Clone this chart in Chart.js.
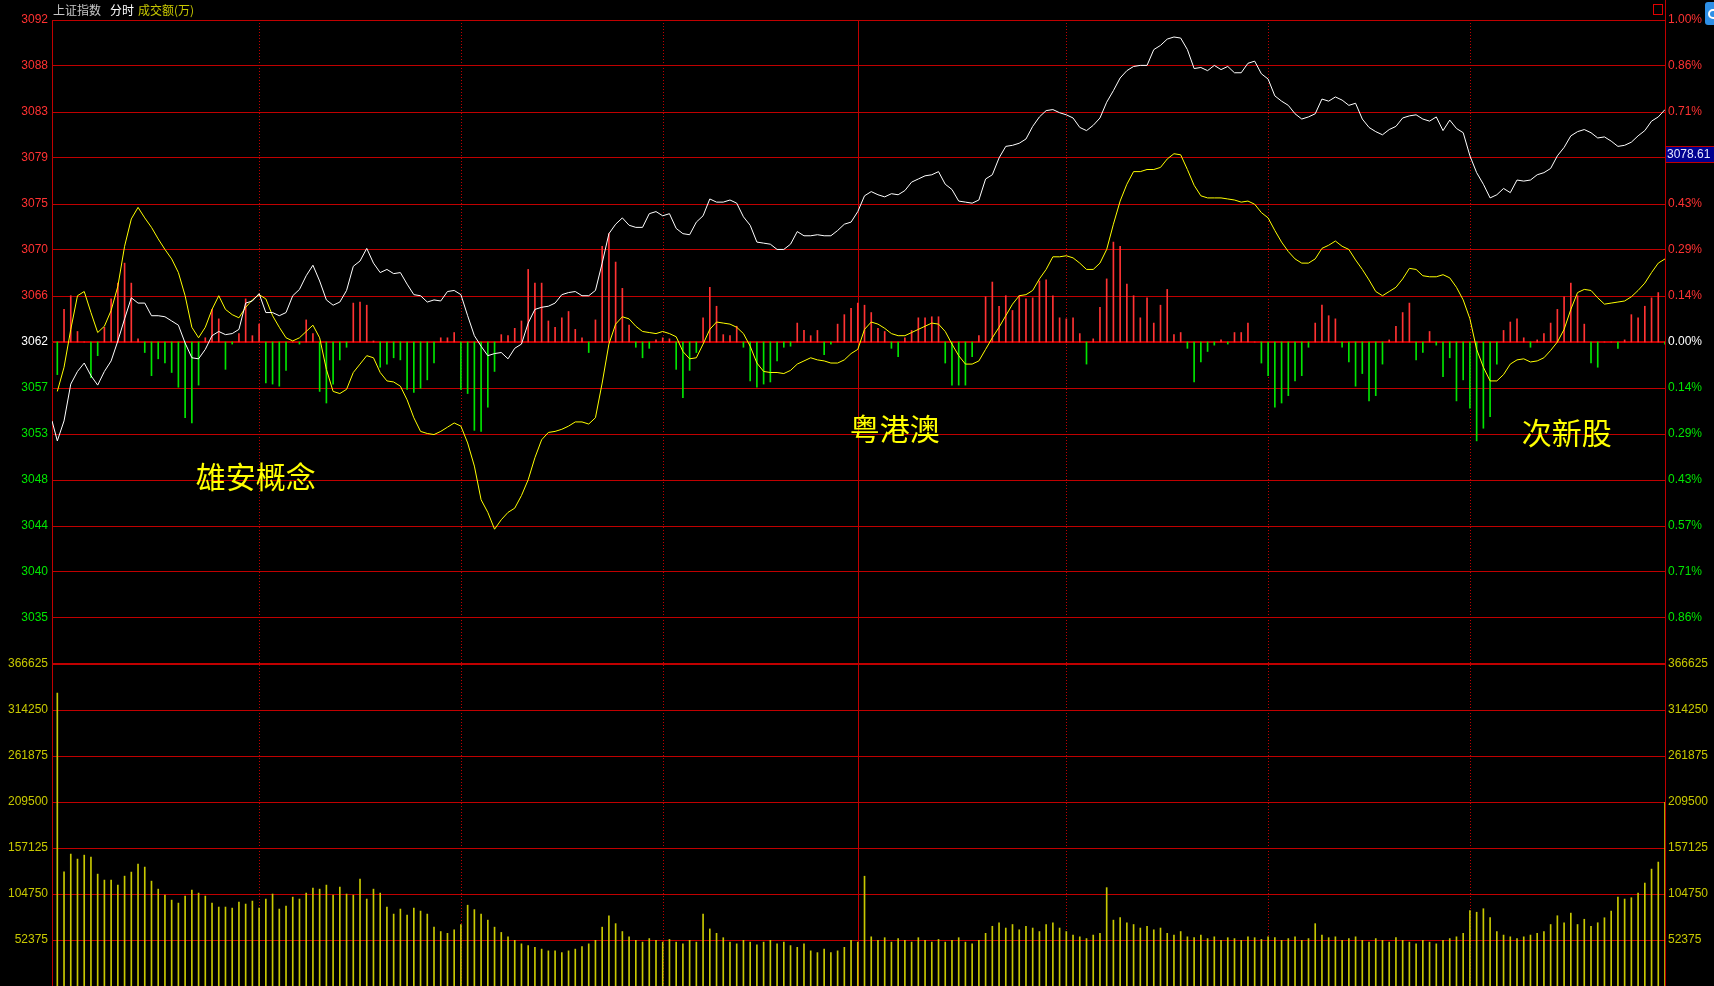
<!DOCTYPE html>
<html lang="zh-CN">
<head>
<meta charset="utf-8">
<title>上证指数 分时</title>
<script src="https://cdn.jsdelivr.net/npm/chart.js@4.4.1/dist/chart.umd.min.js"></script>
<style>
  html, body { margin: 0; padding: 0; background: #000; }
  #wrap { width: 1714px; height: 986px; }
</style>
</head>
<body>
<div id="wrap"><canvas id="fenshi" width="1714" height="986"></canvas></div>
<script>
// 昨收 / 开盘 (分时图零轴)
const preClose = 3061.6;
const openPrice = 3054.1;
const markPrice = 3078.61;

// 白线: 上证指数 每分钟 (0 = 9:31 ... 239 = 15:00)
const whiteLine = [
  3052.2,3054.1,3057.6,3058.8,3059.6,3058.4,3057.5,3058.8,3059.8,3061.7,
  3063.8,3065.8,3065.3,3065.3,3064.1,3064.1,3064.0,3063.6,3063.2,3061.5,
  3060.1,3060.0,3060.9,3062.2,3062.6,3062.3,3062.4,3062.8,3065.3,3065.5,
  3066.2,3064.4,3064.4,3064.1,3064.4,3066.0,3066.6,3067.9,3068.9,3067.4,
  3065.6,3065.1,3065.4,3066.5,3068.8,3069.3,3070.5,3069.1,3068.2,3068.5,
  3068.1,3068.2,3067.1,3066.1,3066.0,3065.4,3065.6,3065.5,3066.4,3066.5,
  3066.1,3064.1,3062.2,3061.2,3060.3,3060.5,3060.6,3060.0,3061.0,3061.4,
  3063.4,3064.7,3064.9,3065.0,3065.3,3066.1,3066.3,3066.4,3066.0,3066.0,
  3066.5,3069.1,3071.9,3072.8,3073.4,3072.7,3072.5,3072.5,3073.8,3074.0,
  3073.6,3073.8,3072.4,3071.9,3071.8,3073.0,3073.6,3075.2,3074.9,3074.9,
  3075.1,3074.8,3073.5,3072.7,3071.1,3071.0,3070.9,3070.4,3070.4,3070.9,
  3072.1,3071.7,3071.7,3071.8,3071.7,3071.7,3072.2,3072.8,3073.0,3074.0,
  3075.5,3075.9,3075.6,3075.4,3075.7,3075.6,3076.0,3076.8,3077.1,3077.4,
  3077.5,3077.8,3076.6,3076.1,3075.0,3074.9,3074.8,3075.1,3077.1,3077.5,
  3079.1,3080.2,3080.3,3080.5,3080.9,3082.1,3083.0,3083.6,3083.7,3083.4,
  3083.2,3082.9,3082.0,3081.7,3082.2,3082.9,3084.4,3085.5,3086.7,3087.4,
  3087.8,3087.9,3087.9,3089.4,3089.8,3090.4,3090.6,3090.5,3089.4,3087.6,
  3087.7,3087.4,3087.9,3087.5,3087.8,3087.2,3087.2,3088.1,3088.3,3087.1,
  3086.6,3085.0,3084.5,3084.1,3083.3,3082.8,3083.0,3083.3,3084.7,3084.5,
  3084.9,3084.6,3084.1,3084.3,3082.8,3082.0,3081.6,3081.3,3081.8,3082.1,
  3082.9,3083.1,3083.2,3082.8,3082.6,3083.0,3081.7,3082.7,3081.9,3081.5,
  3079.3,3077.7,3076.6,3075.3,3075.6,3076.2,3075.8,3077.0,3076.9,3077.0,
  3077.5,3077.7,3078.1,3079.3,3080.1,3081.2,3081.6,3081.8,3081.5,3081.0,
  3081.1,3080.7,3080.2,3080.3,3080.6,3081.2,3081.7,3082.6,3083.0,3083.7
];

// 黄线: 领先指标
const yellowLine = [
  3056.9,3059.2,3062.8,3066.0,3066.4,3064.4,3062.5,3063.1,3064.6,3066.9,
  3070.7,3073.3,3074.4,3073.4,3072.5,3071.4,3070.4,3069.5,3068.2,3066.0,
  3063.0,3062.0,3063.0,3064.7,3066.0,3064.7,3064.2,3063.9,3064.9,3065.6,
  3066.1,3065.7,3064.1,3063.0,3062.0,3061.7,3062.0,3062.6,3063.2,3062.0,
  3059.0,3056.9,3056.7,3057.1,3058.7,3059.5,3060.3,3060.1,3058.7,3057.9,
  3057.8,3057.4,3056.1,3054.4,3053.1,3052.9,3052.8,3053.1,3053.5,3053.9,
  3053.6,3052.0,3049.8,3046.6,3045.4,3043.8,3044.7,3045.4,3045.8,3047.0,
  3048.5,3050.6,3052.3,3053.0,3053.1,3053.3,3053.6,3054.0,3054.0,3053.8,
  3054.4,3057.7,3061.4,3063.3,3064.0,3063.8,3063.1,3062.6,3062.5,3062.4,
  3062.6,3062.4,3062.1,3060.7,3060.0,3060.1,3061.4,3062.8,3063.5,3063.4,
  3063.3,3063.0,3062.4,3061.2,3059.6,3058.8,3058.7,3058.7,3058.6,3058.9,
  3059.5,3059.8,3060.1,3059.9,3059.8,3059.6,3059.6,3059.9,3060.5,3060.9,
  3062.8,3063.5,3063.3,3062.9,3062.4,3062.2,3062.2,3062.5,3062.8,3063.1,
  3063.4,3063.3,3062.6,3061.4,3060.3,3059.5,3059.5,3059.8,3060.9,3062.0,
  3063.0,3064.1,3065.2,3066.0,3066.1,3066.5,3067.6,3068.5,3069.7,3069.7,
  3069.8,3069.6,3069.1,3068.5,3068.5,3069.1,3070.4,3072.8,3075.0,3076.6,
  3077.8,3077.8,3078.0,3078.0,3078.2,3079.0,3079.5,3079.4,3078.0,3076.5,
  3075.5,3075.3,3075.3,3075.3,3075.2,3075.1,3074.9,3075.0,3074.7,3073.9,
  3073.4,3072.2,3071.1,3070.2,3069.5,3069.1,3069.1,3069.5,3070.5,3070.8,
  3071.2,3070.7,3070.4,3069.4,3068.5,3067.5,3066.4,3066.0,3066.4,3066.8,
  3067.6,3068.6,3068.5,3067.9,3067.8,3067.8,3068.0,3067.7,3066.8,3065.6,
  3063.8,3060.9,3059.2,3057.9,3057.9,3058.5,3059.5,3059.9,3060.0,3059.7,
  3059.8,3060.1,3060.8,3061.6,3062.8,3064.7,3066.3,3066.6,3066.5,3065.8,
  3065.2,3065.3,3065.4,3065.5,3065.9,3066.5,3067.2,3068.2,3069.1,3069.5
];

// 红绿柱 (相对零轴, 指数点)
const flowBars = [
  -3.1, 3.1, 4.4, 1.0, 0, -3.4, -1.3, 1.4, 4.1, 5.6,
  7.5, 5.6, 0.3, -1.0, -3.2, -1.6, -2.0, -2.9, -4.3, -7.2,
  -7.7, -4.1, 0.4, 3.1, 2.2, -2.6, -0.2, 0.8, 4.1, 0.6,
  1.7, -3.9, -4.0, -4.2, -2.7, 0, -0.2, 2.1, 0.8, -4.7,
  -5.8, -4.0, -1.7, -0.5, 3.7, 3.8, 3.5, 0.1, -2.4, -2.1,
  -1.5, -1.7, -4.5, -4.8, -4.4, -3.6, -2.0, 0.4, 0.4, 0.9,
  -4.5, -4.9, -8.4, -8.5, -6.2, -2.8, 0.7, 0.6, 1.3, 2.0,
  6.9, 5.6, 5.6, 2.0, 1.4, 2.3, 2.9, 1.2, 0.4, -1.0,
  2.1, 9.1, 10.3, 7.6, 5.1, 1.6, -0.5, -1.5, -0.6, 0.2,
  0.4, 0.3, -2.6, -5.3, -2.7, -1.0, 2.3, 5.2, 3.4, 0.7,
  0.6, 1.5, -0.5, -3.7, -4.3, -4.0, -3.8, -1.8, -0.5, -0.4,
  1.8, 1.1, 0.6, 1.1, -1.2, -0.2, 1.7, 2.6, 3.2, 3.7,
  3.5, 2.8, 1.3, 1.0, -0.6, -1.4, 0.4, 1.1, 2.3, 2.3,
  2.4, 2.4, -2.0, -4.1, -4.1, -4.1, -1.4, 0.6, 4.3, 5.7,
  3.4, 4.4, 3.0, 4.4, 4.1, 4.2, 5.8, 5.9, 4.4, 2.3,
  2.2, 2.3, 0.8, -2.1, 0.3, 3.3, 6.0, 9.5, 9.1, 5.5,
  4.4, 2.3, 4.2, 1.8, 3.5, 5.0, 0.7, 0.9, -0.6, -3.8,
  -1.9, -0.9, -0.3, 0.2, -0.2, 0.9, 0.9, 1.8, 0, -2.0,
  -3.2, -6.2, -5.8, -5.1, -3.7, -3.2, -0.5, 1.8, 3.5, 2.5,
  2.2, -0.5, -1.9, -4.2, -3.0, -5.6, -5.1, -2.1, 0.2, 1.5,
  2.8, 3.7, -1.7, -1.0, 1.0, -0.3, -3.3, -1.5, -5.6, -3.6,
  -6.3, -9.4, -8.2, -7.1, -2.1, 1.1, 1.9, 2.2, 0.4, -0.5,
  0.2, 0.8, 1.8, 3.1, 4.3, 5.6, 4.4, 1.7, -2.0, -2.4,
  0, 0, -0.6, 0.2, 2.6, 2.3, 3.4, 4.2, 4.7, -0.2
];

// 成交额 (万)
const volume = [
  333600,130000,150200,144500,149000,146800,127400,120600,120600,114900,
  125100,129700,138800,135400,119400,110300,103500,97800,94400,102400,
  109200,105800,102400,94400,89900,89900,88700,95600,93300,96700,
  88700,99000,104700,87600,91000,101200,99000,105800,111500,110300,
  114900,103500,112600,104700,103500,121700,99000,110300,105800,89900,
  81900,87600,80800,88700,85300,81900,67100,62000,60000,64000,
  70000,92000,87000,82000,75000,67000,61000,56000,52000,48000,
  46000,44000,42000,40000,40000,38000,40000,42000,45000,48000,
  52000,67000,80000,71000,62000,56000,52000,50000,54000,52000,
  50000,53000,50000,48000,52000,50000,82000,65000,60000,55000,
  50000,48000,52000,50000,47000,50000,52000,48000,50000,46000,
  44000,48000,40000,38000,42000,38000,40000,44000,52000,50000,
  125000,56000,52000,55000,50000,54000,52000,50000,55000,52000,
  50000,53000,50000,52000,55000,50000,48000,52000,60000,68000,
  72000,66000,70000,64000,68000,66000,62000,70000,72000,66000,
  62000,58000,56000,54000,58000,60000,112000,75000,78000,72000,
  70000,66000,68000,64000,66000,60000,58000,62000,56000,55000,
  58000,54000,56000,52000,55000,54000,52000,56000,55000,53000,
  56000,55000,52000,54000,56000,52000,54000,71000,58000,55000,
  56000,52000,54000,56000,52000,50000,54000,52000,50000,55000,
  52000,50000,48000,52000,50000,48000,52000,54000,56000,60000,
  86000,84000,88000,78000,62000,58000,56000,54000,56000,58000,
  60000,62000,70000,80000,72000,83000,70000,76000,68000,72000,
  77700,85300,101200,99000,100500,105800,117200,133100,141100,209000
];

// 坐标轴刻度文字 (自下而上)
const priceTickLabels = ['', '3035', '3040', '3044', '3048', '3053', '3057', '3062',
  '3066', '3070', '3075', '3079', '3083', '3088', '3092'];
const pctTickLabels = ['', '0.86%', '0.71%', '0.57%', '0.43%', '0.29%', '0.14%', '0.00%',
  '0.14%', '0.29%', '0.43%', '0.57%', '0.71%', '0.86%', '1.00%'];
const volTickLabels = ['52375', '104750', '157125', '209500', '261875', '314250', '366625'];
const volStep = 52375;

// 时间分隔线 (10:00 10:30 11:00 11:30/13:00 13:30 14:00 14:30)
const timeGrid = [30, 60, 90, 119.1, 150, 180, 210];
const noonMark = 119.1;
const xMin = -0.79, xMax = 239;

// 板块标注
const notes = [
  { text: '雄安概念', x: 29.5, y: 3048.8 },
  { text: '粤港澳', x: 124.5, y: 3053.4 },
  { text: '次新股', x: 224.4, y: 3053.0 }
];

const RED = '#ff3232', GREEN = '#00e600', GRID = '#c00000';
const NUM_FONT = { family: 'Liberation Sans', size: 12 };

const priceLevels = priceTickLabels.map((_, i) => preClose * (1 + (i - 7) / 700));
const volLevels = volTickLabels.map((_, i) => volStep * (i + 1));

function priceColor(i) { return i > 7 ? RED : (i === 7 ? '#ffffff' : GREEN); }

// 固定轴宽, 去掉 Chart.js 为首尾刻度文字留的上下空白
function fitAxis(width) {
  return s => { s.width = width; s.paddingTop = 0; s.paddingBottom = 0; };
}

const overlay = {
  id: 'overlay',
  beforeDatasetsDraw(chart) {
    const { ctx, chartArea: a, scales: { x } } = chart;
    ctx.save();
    ctx.strokeStyle = GRID;
    ctx.lineWidth = 1;
    timeGrid.forEach(t => {
      const px = Math.round(x.getPixelForValue(t)) + 0.5;
      ctx.setLineDash(t === noonMark ? [] : [1, 2]);
      ctx.beginPath();
      ctx.moveTo(px, a.top);
      ctx.lineTo(px, a.bottom);
      ctx.stroke();
    });
    ctx.restore();
  },
  afterDraw(chart) {
    const { ctx, chartArea: a, scales: { x, y } } = chart;
    ctx.save();
    // 右边框一直到顶
    ctx.strokeStyle = GRID;
    ctx.lineWidth = 1;
    ctx.beginPath();
    ctx.moveTo(a.right + 0.5, 0);
    ctx.lineTo(a.right + 0.5, chart.height);
    ctx.stroke();

    // 标题
    ctx.font = '12px "Noto Sans CJK SC"';
    ctx.textBaseline = 'middle';
    ctx.textAlign = 'left';
    ctx.fillStyle = '#c8c8c8';
    ctx.fillText('上证指数', 53, 10);
    ctx.fillStyle = '#ffffff';
    ctx.fillText('分时', 110, 10);
    ctx.fillStyle = '#c8c800';
    ctx.fillText('成交额(万)', 138, 10);

    // 右上角小方框
    ctx.strokeStyle = '#e00000';
    ctx.strokeRect(1653.5, 4.5, 9, 10);
    // 蓝色按钮
    ctx.fillStyle = '#2e8fe6';
    ctx.beginPath();
    ctx.roundRect(1705, 2, 14, 23, 3);
    ctx.fill();
    ctx.strokeStyle = '#ffffff';
    ctx.lineWidth = 2;
    ctx.beginPath();
    ctx.arc(1713, 14, 4, 0, Math.PI * 2);
    ctx.stroke();

    // 现价标签
    const py = y.getPixelForValue(markPrice);
    const top = Math.round(py) - 17;
    ctx.fillStyle = '#000090';
    ctx.fillRect(a.right + 1, top, chart.width - a.right, 16);
    ctx.strokeStyle = GRID;
    ctx.lineWidth = 1;
    ctx.beginPath();
    ctx.moveTo(a.right, top + 0.5); ctx.lineTo(chart.width, top + 0.5);
    ctx.moveTo(a.right, top + 16.5); ctx.lineTo(chart.width, top + 16.5);
    ctx.stroke();
    ctx.font = '12px "Liberation Sans"';
    ctx.fillStyle = '#e8e8ff';
    ctx.fillText(markPrice.toFixed(2), a.right + 2, top + 9);

    // 板块文字
    ctx.font = '30px "Noto Sans CJK SC"';
    ctx.textAlign = 'center';
    ctx.fillStyle = '#ffff00';
    notes.forEach(n => ctx.fillText(n.text, x.getPixelForValue(n.x), y.getPixelForValue(n.y)));
    ctx.restore();
  }
};

new Chart(document.getElementById('fenshi'), {
  type: 'line',
  data: {
    datasets: [
      {
        label: '上证指数',
        data: [{ x: xMin, y: openPrice }].concat(whiteLine.map((v, i) => ({ x: i, y: v }))),
        borderColor: '#ffffff', borderWidth: 1, pointRadius: 0, tension: 0, yAxisID: 'y'
      },
      {
        label: '领先',
        data: yellowLine.map((v, i) => ({ x: i, y: v })),
        borderColor: '#ffff00', borderWidth: 1, pointRadius: 0, tension: 0, yAxisID: 'y'
      },
      {
        type: 'bar',
        label: '红绿柱',
        data: flowBars.map((v, i) => ({ x: i, y: [preClose, preClose + v] })),
        backgroundColor: c => (flowBars[c.dataIndex] >= 0 ? RED : GREEN),
        barThickness: 1, grouped: false, borderWidth: 0, yAxisID: 'y'
      },
      {
        type: 'bar',
        label: '成交额',
        data: volume.map((v, i) => ({ x: i, y: v })),
        backgroundColor: '#c8c800',
        barThickness: 1, grouped: false, borderWidth: 0, yAxisID: 'yv'
      }
    ]
  },
  options: {
    responsive: false,
    animation: false,
    devicePixelRatio: 1,
    layout: { padding: { top: 20, left: 0, right: 0, bottom: 0 } },
    plugins: { legend: { display: false }, tooltip: { enabled: false } },
    scales: {
      x: { type: 'linear', min: xMin, max: xMax, offset: false, display: false },
      y: {
        position: 'left', stack: 'L', stackWeight: 2, weight: 2,
        min: priceLevels[0], max: priceLevels[14],
        afterBuildTicks: s => { s.ticks = priceLevels.map(v => ({ value: v })); },
        afterFit: fitAxis(52),
        grid: { color: GRID, drawTicks: false, lineWidth: c => (c.index === 7 ? 2 : 1) },
        border: { color: GRID, width: 1 },
        ticks: {
          autoSkip: false, padding: 4, font: NUM_FONT,
          color: c => priceColor(c.index),
          callback: (v, i) => priceTickLabels[i]
        }
      },
      yv: {
        position: 'left', stack: 'L', stackWeight: 1, weight: 1,
        min: 0, max: volLevels[6],
        afterBuildTicks: s => { s.ticks = volLevels.map(v => ({ value: v })); },
        afterFit: fitAxis(52),
        grid: { color: GRID, drawTicks: false, lineWidth: c => (c.index === 6 ? 2 : 1) },
        border: { color: GRID, width: 1 },
        ticks: {
          autoSkip: false, padding: 4, font: NUM_FONT, color: '#c8c800',
          callback: (v, i) => volTickLabels[i]
        }
      },
      yr: {
        position: 'right', stack: 'R', stackWeight: 2, weight: 1,
        min: priceLevels[0], max: priceLevels[14],
        afterBuildTicks: s => { s.ticks = priceLevels.map(v => ({ value: v })); },
        afterFit: fitAxis(49),
        grid: { display: false, drawTicks: false },
        border: { display: false },
        ticks: {
          autoSkip: false, padding: 3, font: NUM_FONT,
          color: c => priceColor(c.index),
          callback: (v, i) => pctTickLabels[i]
        }
      },
      yvr: {
        position: 'right', stack: 'R', stackWeight: 1, weight: 2,
        min: 0, max: volLevels[6],
        afterBuildTicks: s => { s.ticks = volLevels.map(v => ({ value: v })); },
        afterFit: fitAxis(49),
        grid: { display: false, drawTicks: false },
        border: { display: false },
        ticks: {
          autoSkip: false, padding: 3, font: NUM_FONT, color: '#c8c800',
          callback: (v, i) => volTickLabels[i]
        }
      }
    }
  },
  plugins: [overlay]
});
</script>
</body>
</html>
